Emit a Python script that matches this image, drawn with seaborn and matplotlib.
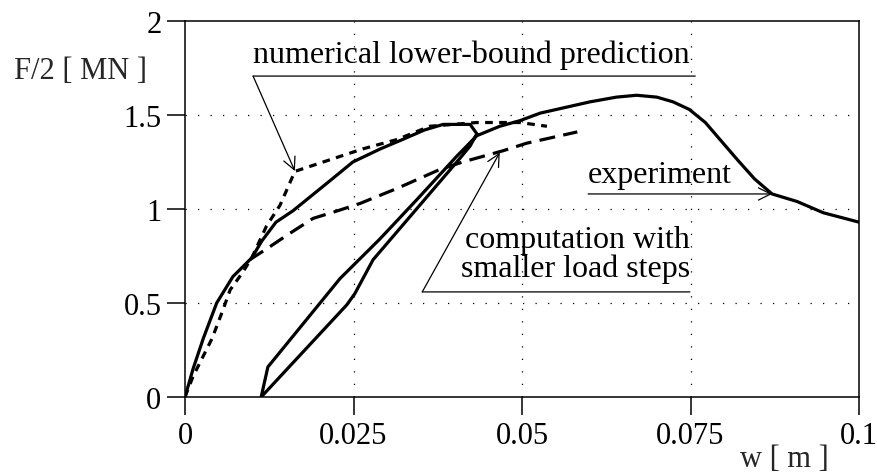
import matplotlib
matplotlib.use("Agg")
import matplotlib.pyplot as plt
import seaborn as sns

# experiment: loading, drop, unloading/reloading loop, peak, softening
exp_w = [0.0, 0.0012, 0.0027, 0.0047, 0.0071, 0.0099, 0.0114, 0.0135, 0.0160,
         0.0215, 0.0249, 0.0290, 0.0323, 0.0355, 0.0383, 0.0423, 0.0433, 0.0423,
         0.0408, 0.0279, 0.0264, 0.0252, 0.0240, 0.0113, 0.0123, 0.0230, 0.0289,
         0.0344, 0.0403, 0.0433, 0.0467, 0.0497, 0.0527, 0.0601, 0.0640, 0.0670,
         0.0700, 0.0724, 0.0748, 0.0772, 0.0796, 0.0820, 0.0845, 0.0871, 0.0908,
         0.0947, 0.1000]
exp_F = [0.0, 0.15, 0.31, 0.50, 0.64, 0.74, 0.83, 0.93, 0.99,
         1.15, 1.25, 1.32, 1.37, 1.42, 1.45, 1.45, 1.40, 1.335,
         1.27, 0.73, 0.63, 0.55, 0.49, 0.0, 0.16, 0.63, 0.84,
         1.05, 1.28, 1.39, 1.44, 1.47, 1.51, 1.57, 1.595, 1.605,
         1.595, 1.57, 1.53, 1.46, 1.36, 1.26, 1.16, 1.08, 1.04,
         0.98, 0.93]

# numerical lower-bound prediction (short dashes)
lb_w = [0.0, 0.0012, 0.0040, 0.0056, 0.0067, 0.0085, 0.0099, 0.0121, 0.0141,
        0.0163, 0.0205, 0.0264, 0.0315, 0.0363, 0.0433, 0.0497, 0.0537]
lb_F = [0.0, 0.11, 0.31, 0.46, 0.57, 0.66, 0.74, 0.91, 1.02,
        1.20, 1.25, 1.32, 1.37, 1.44, 1.46, 1.46, 1.44]

# computation with smaller load steps (long dashes)
small_w = [0.0096, 0.0122, 0.0151, 0.0190, 0.0226, 0.0260, 0.0315, 0.0378,
           0.0412, 0.0472, 0.0507, 0.0582]
small_F = [0.73, 0.79, 0.86, 0.95, 0.99, 1.03, 1.11, 1.21,
           1.25, 1.31, 1.35, 1.41]

x_ticks = [0, 0.025, 0.05, 0.075, 0.1]
x_labels = ["0", "0.025", "0.05", "0.075", "0.1"]
y_ticks = [0, 0.5, 1, 1.5, 2]
y_labels = ["0", "0.5", "1", "1.5", "2"]

sns.set_theme(style="white")
plt.rcParams["font.family"] = ["Liberation Serif", "DejaVu Serif"]
plt.rcParams["axes.linewidth"] = 1.1

fig = plt.figure(figsize=(8.78, 4.77), dpi=100)
ax = fig.add_axes([0.2107, 0.1656, 0.7677, 0.7883])

line_kw = dict(sort=False, estimator=None, color="black", lw=2.3, ax=ax)
sns.lineplot(x=exp_w, y=exp_F, **line_kw)
sns.lineplot(x=lb_w, y=lb_F, linestyle=(0, (2.4, 2.0)), **line_kw)
sns.lineplot(x=small_w, y=small_F, linestyle=(0, (5.0, 2.6)), **line_kw)

ax.set_xlim(0, 0.1)
ax.set_ylim(0, 2)
ax.set_xticks(x_ticks)
ax.set_xticklabels(x_labels)
ax.set_yticks(y_ticks)
ax.set_yticklabels(y_labels)
ax.tick_params(axis="both", direction="out", length=13, width=1.1,
               labelsize=22, pad=4, colors="black")
ax.tick_params(left=True, bottom=True, top=False, right=False)
for s in ax.spines.values():
    s.set_color("black")
    s.set_visible(True)

# dotted grid at inner positions only
for xv in x_ticks[1:-1]:
    ax.axvline(xv, color="black", lw=0.9, linestyle=(0, (1, 9)), zorder=0)
for yv in y_ticks[1:-1]:
    ax.axhline(yv, color="black", lw=0.9, linestyle=(0, (1, 9)), zorder=0)

fig.text(147 / 878, 1 - 79 / 477, "F/2 [ MN ]", ha="right", va="baseline", fontsize=22)
fig.text(740 / 878, 1 - 467 / 477, "w [ m ]", ha="left", va="baseline", fontsize=22)

txt = dict(fontsize=23, color="black")
thin = dict(arrowstyle="-", lw=0.9, color="black", shrinkA=0, shrinkB=0)
arrow = dict(arrowstyle="->", lw=0.9, color="black", shrinkA=0, shrinkB=0,
             mutation_scale=22)

# numerical lower-bound prediction
ax.text(0.0101, 1.782, "numerical lower-bound prediction", ha="left", va="baseline", **txt)
ax.annotate("", xy=(0.0757, 1.707), xytext=(0.0101, 1.707), arrowprops=thin)
ax.annotate("", xy=(0.0163, 1.202), xytext=(0.0101, 1.707), arrowprops=arrow)

# experiment
ax.text(0.0598, 1.144, "experiment", ha="left", va="baseline", **txt)
ax.annotate("", xy=(0.0871, 1.080), xytext=(0.0598, 1.080), arrowprops=arrow)

# computation with smaller load steps
ax.text(0.0749, 0.798, "computation with", ha="right", va="baseline", **txt)
ax.text(0.0749, 0.644, "smaller load steps", ha="right", va="baseline", **txt)
ax.annotate("", xy=(0.0749, 0.559), xytext=(0.0352, 0.559), arrowprops=thin)
ax.annotate("", xy=(0.0467, 1.30), xytext=(0.0352, 0.559), arrowprops=arrow)

fig.savefig("out.png", dpi=100, facecolor="white")
